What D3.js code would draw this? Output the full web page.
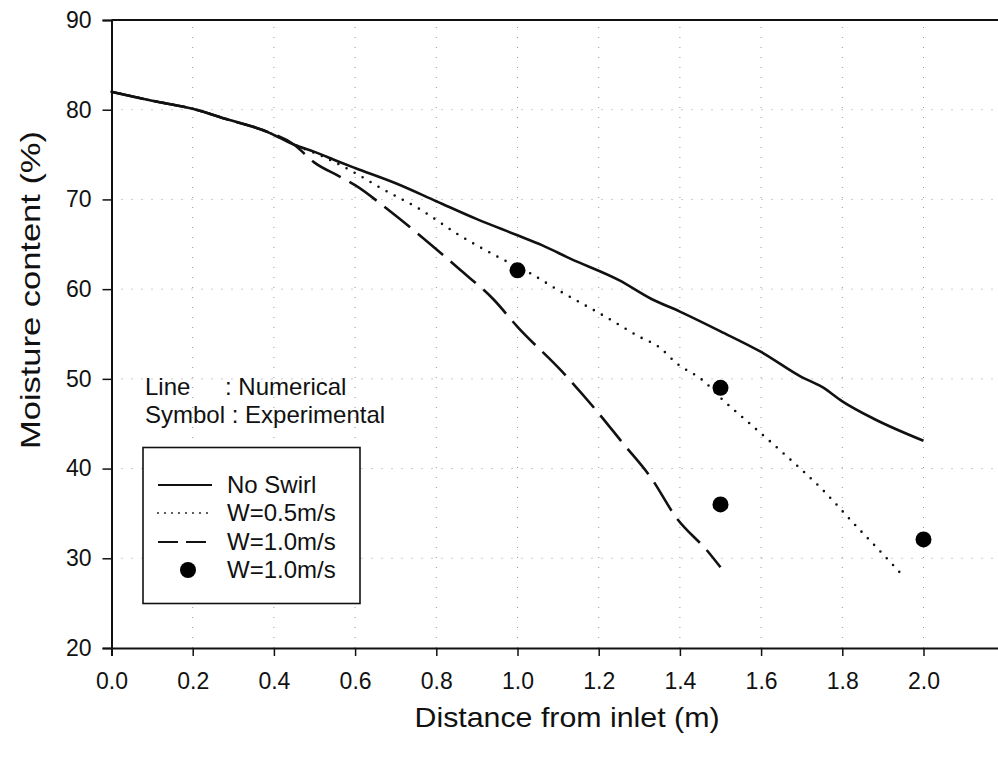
<!DOCTYPE html>
<html><head><meta charset="utf-8">
<script src="https://cdn.jsdelivr.net/npm/d3@7"></script>
<style>body{margin:0;background:#fff}svg{display:block}text{font-family:"Liberation Sans",Arial,sans-serif;fill:#111}</style>
</head><body><svg id="c" width="998" height="758"></svg>
<script>
const xTicks = [0,0.2,0.4,0.6,0.8,1.0,1.2,1.4,1.6,1.8,2.0];
const yTicks = [20,30,40,50,60,70,80,90];
const noSwirlX = [0,0.1,0.2,0.28,0.38,0.45,0.5,0.56,0.6,0.7,0.8,0.9,1.0,1.06,1.13,1.25,1.33,1.4,1.5,1.6,1.7,1.75,1.8,1.88,2.0];
const noSwirlY = [82,81,80.1,79,77.6,76.1,75.3,74.2,73.5,71.8,69.8,67.8,66,64.9,63.4,61,58.9,57.5,55.3,53,50.2,49.1,47.5,45.5,43.1];
const w05X = [0,0.1,0.2,0.28,0.38,0.45,0.52,0.59,0.67,0.76,0.85,0.96,1.03,1.1,1.21,1.3,1.35,1.39,1.46,1.5,1.57,1.66,1.75,1.83,1.93,1.95];
const w05Y = [82,81,80.1,79,77.6,76.1,74.8,73.2,71.1,68.9,66.2,63.4,61.8,59.9,57.1,54.7,53.5,51.8,49.7,47.9,45.1,41.5,37.7,33.8,29,28];
const w10X = [0,0.1,0.2,0.28,0.38,0.45,0.5,0.56,0.6,0.68,0.77,0.86,0.94,1.0,1.11,1.19,1.26,1.33,1.39,1.47,1.5];
const w10Y = [82,81,80.1,79,77.6,76.1,74.1,72.6,71.6,68.9,65.6,62.1,58.9,55.8,50.8,46.7,42.8,38.9,34.6,30.7,29];
const expX = [1.0,1.5,1.5,2.0];
const expY = [62.1,49.0,36.0,32.1];
const legendLabels = ["No Swirl","W=0.5m/s","W=1.0m/s","W=1.0m/s"];

const svg = d3.select("#c");
const x = d3.scaleLinear().domain([0,2.2]).range([111.5,1004.7]);
const y = d3.scaleLinear().domain([20,90]).range([648,20]);

// grid
const g = svg.append("g");
g.selectAll(".vg").data(xTicks.slice(1)).join("line")
  .attr("x1",d=>x(d)).attr("x2",d=>x(d)).attr("y1",y(20)).attr("y2",y(90))
  .attr("stroke","#999").attr("stroke-width",1).attr("stroke-dasharray","1,9");
g.selectAll(".hg").data(yTicks.slice(1,-1)).join("line")
  .attr("x1",x(0)).attr("x2",998).attr("y1",d=>y(d)).attr("y2",d=>y(d))
  .attr("stroke","#999").attr("stroke-width",1).attr("stroke-dasharray","1,9");

// axes
const xa = svg.append("g").attr("transform",`translate(0,${y(20)})`)
  .call(d3.axisBottom(x).tickValues(xTicks).tickFormat(d3.format(".1f")).tickSize(8).tickPadding(17));
const ya = svg.append("g").attr("transform",`translate(${x(0)},0)`)
  .call(d3.axisLeft(y).tickValues(yTicks).tickSize(9).tickPadding(11));
[xa,ya].forEach(a=>{a.select(".domain").attr("stroke","#111").attr("stroke-width",2);
  a.selectAll(".tick line").attr("stroke","#111").attr("stroke-width",1.5);
  a.selectAll("text").style("font-size","23px").attr("fill","#111");});
svg.append("line").attr("x1",x(0)).attr("x2",998).attr("y1",y(90)).attr("y2",y(90))
  .attr("stroke","#111").attr("stroke-width",2);

// titles
svg.append("text").attr("x",567).attr("y",727).attr("text-anchor","middle")
  .style("font-size","28px").attr("textLength",305).attr("lengthAdjust","spacingAndGlyphs")
  .text("Distance from inlet (m)");
svg.append("text").attr("transform","translate(30,290) rotate(-90)").attr("text-anchor","middle")
  .attr("dy","0.35em").style("font-size","28px").attr("textLength",318).attr("lengthAdjust","spacingAndGlyphs")
  .text("Moisture content (%)");

// lines
const line = d3.line().x(d=>x(d[0])).y(d=>y(d[1])).curve(d3.curveMonotoneX);
const zip = (a,b)=>a.map((v,i)=>[v,b[i]]);
svg.append("path").datum(zip(w05X,w05Y)).attr("d",line).attr("fill","none")
  .attr("stroke","#111").attr("stroke-width",2.6).attr("stroke-dasharray","0,9.2").attr("stroke-linecap","round");
svg.append("path").datum(zip(w10X,w10Y)).attr("d",line).attr("fill","none")
  .attr("stroke","#111").attr("stroke-width",2.6).attr("stroke-dasharray","33,10");
svg.append("path").datum(zip(noSwirlX,noSwirlY)).attr("d",line).attr("fill","none")
  .attr("stroke","#111").attr("stroke-width",2.6);
svg.selectAll(".pt").data(zip(expX,expY)).join("circle")
  .attr("cx",d=>x(d[0])).attr("cy",d=>y(d[1])).attr("r",8).attr("fill","#000");

// annotation
const fs = "24px";
const sym = svg.append("text").attr("x",145).attr("y",415).attr("dy","0.35em").style("font-size",fs).text("Symbol ");
const colX = 145 + sym.node().getComputedTextLength();
sym.text("Symbol : Experimental");
svg.append("text").attr("x",145).attr("y",387).attr("dy","0.35em").style("font-size",fs).text("Line");
svg.append("text").attr("x",colX).attr("y",387).attr("dy","0.35em").style("font-size",fs).text(": Numerical");

// legend
svg.append("rect").attr("x",143).attr("y",447.5).attr("width",217).attr("height",156)
  .attr("fill","#fff").attr("stroke","#111").attr("stroke-width",1.6);
const rowsY = [485,513,542,570];
const styles = [null,"0,7","20,8"];
legendLabels.forEach((lab,i)=>{
  if(i<3){
    const l = svg.append("line").attr("x1",158).attr("x2",212).attr("y1",rowsY[i]).attr("y2",rowsY[i])
      .attr("stroke","#111").attr("stroke-width",i==1?1.8:2);
    if(styles[i]) l.attr("stroke-dasharray",styles[i]).attr("stroke-linecap",i==1?"round":"butt");
  } else {
    svg.append("circle").attr("cx",188).attr("cy",rowsY[i]).attr("r",8).attr("fill","#000");
  }
  svg.append("text").attr("x",227).attr("y",rowsY[i]).attr("dy","0.35em").style("font-size",fs).text(lab);
});
</script></body></html>
